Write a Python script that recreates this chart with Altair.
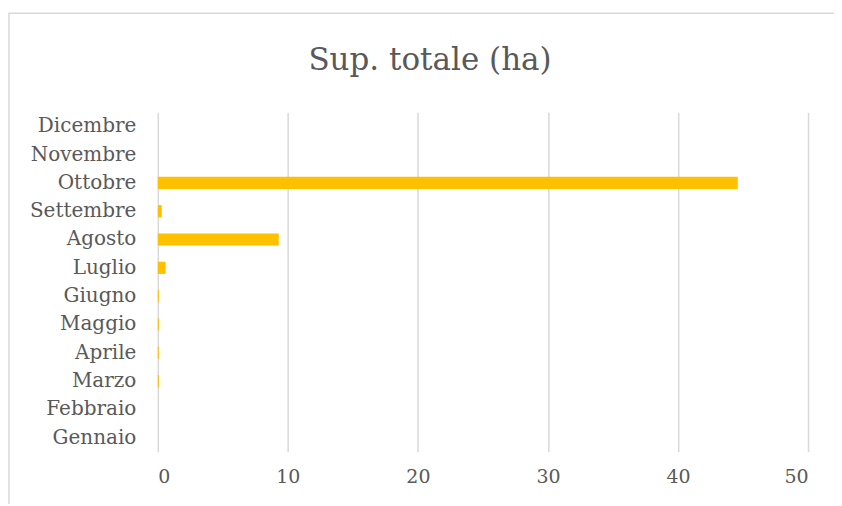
import altair as alt
import pandas as pd

months = ["Gennaio", "Febbraio", "Marzo", "Aprile", "Maggio", "Giugno",
          "Luglio", "Agosto", "Settembre", "Ottobre", "Novembre", "Dicembre"]
values = [0, 0, 0.08, 0.08, 0.08, 0.08, 0.6, 9.3, 0.3, 44.6, 0, 0]

df = pd.DataFrame({"mese": months, "ha": values})

order_top_down = list(reversed(months))

bars = alt.Chart(df).mark_bar(color="#FFC000").encode(
    x=alt.X("ha:Q", scale=alt.Scale(domain=[0, 50], nice=False),
            axis=alt.Axis(values=[0, 10, 20, 30, 40, 50], title=None, grid=True,
                          gridColor="#d9d9d9", gridWidth=1.5, domain=False, ticks=False,
                          labelFont="DejaVu Serif", labelFontSize=19, labelColor="#595959",
                          labelPadding=16)),
    y=alt.Y("mese:N", sort=order_top_down,
            scale=alt.Scale(paddingInner=0.57, paddingOuter=0.28),
            axis=alt.Axis(title=None, domain=False, ticks=False, grid=False,
                          labelFont="DejaVu Serif", labelFontSize=20, labelColor="#595959",
                          labelPadding=22)),
)

border = alt.Chart(df).mark_rect(fill=None, stroke="#d9d9d9", strokeWidth=1.5, clip=False).encode(
    x=alt.value(-149), x2=alt.value(800), y=alt.value(-99), y2=alt.value(500)
).transform_filter(alt.datum.mese == "Gennaio")

chart = alt.layer(border, bars).properties(
    width=651, height=340,
    title=alt.Title("Sup. totale (ha)", font="DejaVu Serif", fontSize=31, fontWeight="normal",
                    color="#595959", offset=-65, dx=-53),
    padding={"left": 150, "top": 104, "right": 26, "bottom": 52},
    autosize=alt.AutoSizeParams(type="none"),
).configure_view(stroke=None)

chart.save("out.html", embed_options={"renderer": "svg", "actions": False})
